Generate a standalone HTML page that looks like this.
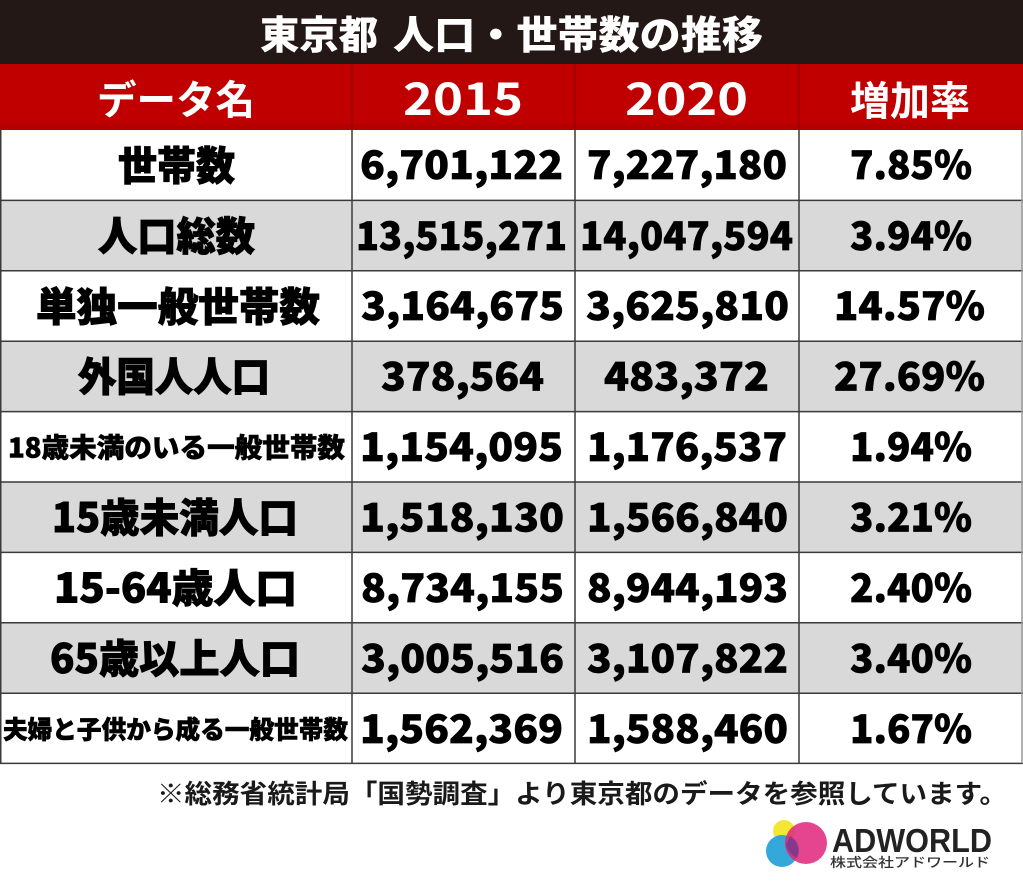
<!DOCTYPE html>
<html><head><meta charset="utf-8"><style>
html,body{margin:0;padding:0;background:#fff;}
svg{display:block;}
text{font-family:"Noto Sans CJK JP","Liberation Sans",sans-serif;}
</style></head><body>
<svg width="1023" height="884" viewBox="0 0 1023 884" xmlns="http://www.w3.org/2000/svg">
<rect x="0" y="0" width="1023" height="884" fill="#fff"/>
<!-- title bar -->
<rect x="0" y="0" width="1023" height="64" fill="#231815"/>
<text x="260" y="49" font-size="39" font-weight="900" fill="#fff" textLength="118" lengthAdjust="spacingAndGlyphs">東京都</text>
<text x="393" y="49" font-size="39" font-weight="900" fill="#fff" textLength="370" lengthAdjust="spacingAndGlyphs">人口・世帯数の推移</text>
<!-- header -->
<rect x="0" y="64" width="1023" height="66" fill="#c00000"/>
<rect x="0" y="124" width="1023" height="6" fill="#b30000"/>
<g fill="#fff" font-weight="700">
<text x="97" y="114" font-size="40" textLength="158" lengthAdjust="spacingAndGlyphs">データ名</text>
<text x="403" y="115" font-size="45" textLength="120" lengthAdjust="spacingAndGlyphs">2015</text>
<text x="625" y="115" font-size="45" textLength="123" lengthAdjust="spacingAndGlyphs">2020</text>
<text x="850" y="115" font-size="40" textLength="120" lengthAdjust="spacingAndGlyphs">増加率</text>
</g>
<!-- row backgrounds -->
<rect x="0" y="200.4" width="1023" height="70.4" fill="#d9d9d9"/>
<rect x="0" y="341.2" width="1023" height="70.4" fill="#d9d9d9"/>
<rect x="0" y="482" width="1023" height="70.4" fill="#d9d9d9"/>
<rect x="0" y="622.8" width="1023" height="70.4" fill="#d9d9d9"/>
<!-- grid lines -->
<g stroke="#3a3a3a" stroke-width="1.5">
<line x1="0" y1="200.4" x2="1023" y2="200.4"/>
<line x1="0" y1="270.8" x2="1023" y2="270.8"/>
<line x1="0" y1="341.2" x2="1023" y2="341.2"/>
<line x1="0" y1="411.6" x2="1023" y2="411.6"/>
<line x1="0" y1="482" x2="1023" y2="482"/>
<line x1="0" y1="552.4" x2="1023" y2="552.4"/>
<line x1="0" y1="622.8" x2="1023" y2="622.8"/>
<line x1="0" y1="693.2" x2="1023" y2="693.2"/>
<line x1="0" y1="763.4" x2="1023" y2="763.4"/>
<line x1="352" y1="130" x2="352" y2="763.4"/>
<line x1="575" y1="130" x2="575" y2="763.4"/>
<line x1="799" y1="130" x2="799" y2="763.4"/>
<line x1="0.75" y1="130" x2="0.75" y2="763.4"/>
</g>
<line x1="1022" y1="130" x2="1022" y2="763.4" stroke="#999" stroke-width="1.5"/>
<g stroke="#8a0000" stroke-width="1.2">
<line x1="352" y1="64" x2="352" y2="130"/>
<line x1="575" y1="64" x2="575" y2="130"/>
<line x1="799" y1="64" x2="799" y2="130"/>
</g>
<!-- labels -->
<g fill="#000" stroke="#000" stroke-width="0.9" font-weight="900" font-size="40">
<text x="118" y="180" textLength="117" lengthAdjust="spacingAndGlyphs">世帯数</text>
<text x="98" y="250.5" textLength="157" lengthAdjust="spacingAndGlyphs">人口総数</text>
<text x="36" y="321" textLength="284" lengthAdjust="spacingAndGlyphs">単独一般世帯数</text>
<text x="78" y="391" textLength="192" lengthAdjust="spacingAndGlyphs">外国人人口</text>
<text x="8" y="457.5" font-size="27" stroke-width="0.6" textLength="337" lengthAdjust="spacingAndGlyphs">18歳未満のいる一般世帯数</text>
<text x="52" y="532" textLength="246" lengthAdjust="spacingAndGlyphs">15歳未満人口</text>
<text x="54" y="602.5" textLength="243" lengthAdjust="spacingAndGlyphs">15-64歳人口</text>
<text x="50" y="673" textLength="250" lengthAdjust="spacingAndGlyphs">65歳以上人口</text>
<text x="3" y="738.5" font-size="25" stroke-width="0.6" textLength="345" lengthAdjust="spacingAndGlyphs">夫婦と子供から成る一般世帯数</text>
</g>
<!-- data -->
<g fill="#000" stroke="#000" stroke-width="0.7" font-weight="900" font-size="39">
<text x="360" y="179" textLength="203" lengthAdjust="spacingAndGlyphs">6,701,122</text>
<text x="587" y="179" textLength="200" lengthAdjust="spacingAndGlyphs">7,227,180</text>
<text x="850" y="179" textLength="122" lengthAdjust="spacingAndGlyphs">7.85%</text>
<text x="356" y="250" textLength="211" lengthAdjust="spacingAndGlyphs">13,515,271</text>
<text x="580" y="250" textLength="213" lengthAdjust="spacingAndGlyphs">14,047,594</text>
<text x="850" y="250" textLength="122" lengthAdjust="spacingAndGlyphs">3.94%</text>
<text x="361" y="320" textLength="203" lengthAdjust="spacingAndGlyphs">3,164,675</text>
<text x="586" y="320" textLength="203" lengthAdjust="spacingAndGlyphs">3,625,810</text>
<text x="834" y="320" textLength="151" lengthAdjust="spacingAndGlyphs">14.57%</text>
<text x="381" y="390.5" textLength="163" lengthAdjust="spacingAndGlyphs">378,564</text>
<text x="604" y="390.5" textLength="165" lengthAdjust="spacingAndGlyphs">483,372</text>
<text x="834" y="390.5" textLength="151" lengthAdjust="spacingAndGlyphs">27.69%</text>
<text x="360" y="461" textLength="203" lengthAdjust="spacingAndGlyphs">1,154,095</text>
<text x="587" y="461" textLength="200" lengthAdjust="spacingAndGlyphs">1,176,537</text>
<text x="850" y="461" textLength="122" lengthAdjust="spacingAndGlyphs">1.94%</text>
<text x="360" y="531.5" textLength="204" lengthAdjust="spacingAndGlyphs">1,518,130</text>
<text x="587" y="531.5" textLength="201" lengthAdjust="spacingAndGlyphs">1,566,840</text>
<text x="850" y="531.5" textLength="122" lengthAdjust="spacingAndGlyphs">3.21%</text>
<text x="361" y="602" textLength="203" lengthAdjust="spacingAndGlyphs">8,734,155</text>
<text x="587" y="602" textLength="201" lengthAdjust="spacingAndGlyphs">8,944,193</text>
<text x="850" y="602" textLength="122" lengthAdjust="spacingAndGlyphs">2.40%</text>
<text x="361" y="672.5" textLength="203" lengthAdjust="spacingAndGlyphs">3,005,516</text>
<text x="587" y="672.5" textLength="201" lengthAdjust="spacingAndGlyphs">3,107,822</text>
<text x="850" y="672.5" textLength="122" lengthAdjust="spacingAndGlyphs">3.40%</text>
<text x="360" y="743" textLength="203" lengthAdjust="spacingAndGlyphs">1,562,369</text>
<text x="587" y="743" textLength="201" lengthAdjust="spacingAndGlyphs">1,588,460</text>
<text x="850" y="743" textLength="122" lengthAdjust="spacingAndGlyphs">1.67%</text>
</g>
<!-- footnote -->
<text x="157" y="803" font-size="26" font-weight="700" fill="#1a1a1a" textLength="850" lengthAdjust="spacingAndGlyphs">※総務省統計局「国勢調査」より東京都のデータを参照しています。</text>
<!-- logo -->
<g>
<circle cx="784" cy="831" r="11" fill="#f2e52a" opacity="0.95"/>
<circle cx="782" cy="851" r="16" fill="#2aa3d8" opacity="0.95"/>
<circle cx="806" cy="843" r="21" fill="#e0257a" opacity="0.85"/>
<path d="M790 836 A16 16 0 0 1 797 858 A21 21 0 0 1 786 845 Z" fill="#6a3b8a" opacity="0.7"/>
</g>
<text x="832" y="852" font-size="33" font-weight="700" fill="#222" textLength="160" lengthAdjust="spacingAndGlyphs" style="font-family:'Liberation Sans',sans-serif">ADWORLD</text>
<text x="830" y="867" font-size="13" font-weight="500" fill="#333" textLength="160" lengthAdjust="spacingAndGlyphs">株式会社アドワールド</text>
</svg>
</body></html>
